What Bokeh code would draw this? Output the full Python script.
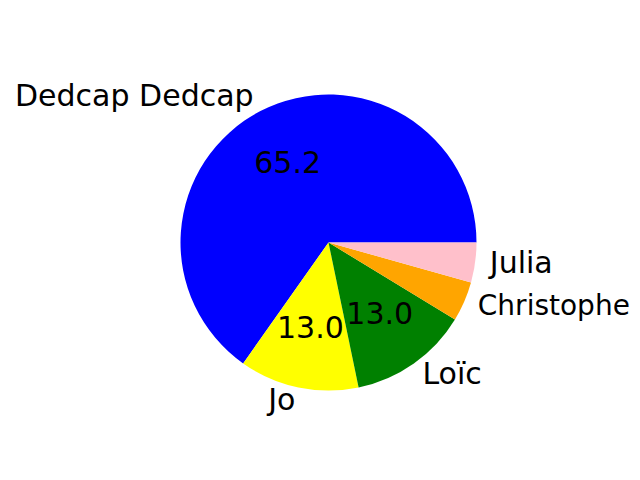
import math
from bokeh.plotting import figure
from bokeh.models import ColumnDataSource, Range1d
from bokeh.embed import file_html
from bokeh.resources import INLINE
from bokeh.core.properties import value

names = ["Dedcap Dedcap", "Jo", "Loïc", "Christophe", "Julia"]
counts = [15, 3, 3, 1, 1]
colors = ["blue", "yellow", "green", "orange", "pink"]

total = float(sum(counts))
starts, ends = [], []
acc = 0.0
for c in counts:
    starts.append(2 * math.pi * acc / total)
    acc += c
    ends.append(2 * math.pi * acc / total)

mids = [(s + e) / 2 for s, e in zip(starts, ends)]
pcts = [100.0 * c / total for c in counts]

# pixel geometry (figure coords): center (328,242), radius 148
W, H = 632, 472
R = 148.0
cx, cy = 328.0, 242.0
x0 = (0 - cx) / R
x1 = (W - cx) / R
y1 = cy / R
y0 = -(H - cy) / R

p = figure(width=W, height=H, output_backend="svg", toolbar_location=None,
           x_range=Range1d(x0, x1), y_range=Range1d(y0, y1),
           min_border=0, outline_line_color=None)
p.axis.visible = False
p.grid.visible = False
p.background_fill_color = "white"
p.border_fill_color = "white"

src = ColumnDataSource(dict(start=starts, end=ends, color=colors))
p.wedge(x=0, y=0, radius=1, start_angle="start", end_angle="end",
        fill_color="color", line_color=None, source=src)

fs = "30px"
for name, m in zip(names, mids):
    lx = 1.1 * math.cos(m)
    ly = 1.1 * math.sin(m)
    size = "28px" if name == "Christophe" else fs
    p.text(x=[lx], y=[ly], text=[name], text_align="right" if lx < 0 else "left",
           text_baseline="middle", text_font=value("DejaVu Sans"),
           text_font_size=size, text_color="black", y_offset=-2)

for pc, m in zip(pcts, mids):
    if pc < 5:
        continue
    p.text(x=[0.6 * math.cos(m)], y=[0.6 * math.sin(m)], text=["%.1f" % pc],
           text_align="center", text_baseline="middle",
           text_font=value("DejaVu Sans"), text_font_size=fs, text_color="black",
           y_offset=-2)

open("out.html", "w").write(file_html(p, INLINE))
